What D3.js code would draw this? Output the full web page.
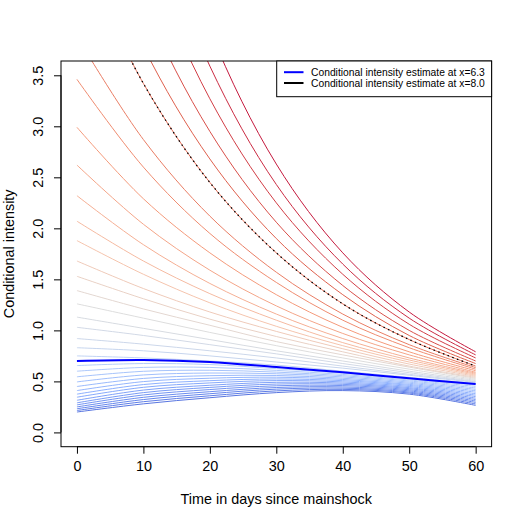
<!DOCTYPE html>
<html><head><meta charset="utf-8">
<script src="https://cdn.jsdelivr.net/npm/d3@7"></script>
<style>
body{margin:0;background:#fff}
svg{display:block}
text{font-family:"Liberation Sans",Arial,Helvetica,sans-serif;fill:#000}
</style>
</head><body><svg id="chart" width="523" height="523"></svg>
<script>
// ---- data ----
const times = [0, 10, 20, 30, 40, 50, 60];
const xTicks = [0, 10, 20, 30, 40, 50, 60];
const yTicks = [0.0, 0.5, 1.0, 1.5, 2.0, 2.5, 3.0, 3.5];
const covariates = [4.8,4.9,5.0,5.1,5.2,5.3,5.4,5.5,5.6,5.7,5.8,5.9,6.0,6.1,6.2,
                    6.3,6.4,6.5,6.6,6.7,6.8,6.9,7.0,7.1,7.2,7.3,7.4,7.5,7.6,7.7,7.8,7.9,8.0,8.1,8.2,8.3,8.4,8.5];
const lowerCurves = [
  [0.200,0.280,0.340,0.390,0.410,0.375,0.265],
  [0.215,0.301,0.359,0.407,0.422,0.386,0.279],
  [0.232,0.322,0.379,0.424,0.434,0.396,0.294],
  [0.250,0.344,0.399,0.440,0.446,0.407,0.308],
  [0.270,0.367,0.420,0.457,0.459,0.418,0.322],
  [0.290,0.390,0.441,0.474,0.471,0.429,0.336],
  [0.315,0.415,0.462,0.491,0.483,0.439,0.351],
  [0.345,0.442,0.485,0.508,0.495,0.450,0.365],
  [0.375,0.469,0.507,0.524,0.507,0.461,0.379],
  [0.410,0.498,0.531,0.541,0.519,0.471,0.394],
  [0.450,0.529,0.556,0.558,0.531,0.482,0.408],
  [0.495,0.563,0.582,0.575,0.544,0.493,0.422],
  [0.545,0.599,0.609,0.591,0.556,0.504,0.436],
  [0.600,0.637,0.637,0.608,0.568,0.514,0.451],
  [0.655,0.675,0.665,0.625,0.580,0.525,0.465]
];
const upperCurves = [
  [0.70,0.71,0.69,0.64,0.59,0.53,0.475],
  [0.75,0.73,0.70,0.66,0.60,0.54,0.48],
  [0.83,0.80,0.75,0.69,0.63,0.56,0.49],
  [0.92,0.865,0.80,0.73,0.65,0.57,0.495],
  [1.03,0.95,0.86,0.77,0.675,0.585,0.50],
  [1.13,1.02,0.91,0.80,0.70,0.60,0.51],
  [1.26,1.12,0.98,0.85,0.73,0.62,0.52],
  [1.39,1.21,1.05,0.89,0.76,0.64,0.53],
  [1.53,1.31,1.11,0.94,0.79,0.65,0.54],
  [1.68,1.41,1.18,0.99,0.82,0.67,0.55],
  [1.88,1.55,1.27,1.04,0.85,0.69,0.56],
  [2.07,1.68,1.36,1.10,0.88,0.71,0.57],
  [2.32,1.84,1.46,1.16,0.92,0.73,0.58],
  [2.62,2.04,1.59,1.24,0.97,0.76,0.59],
  [2.99,2.29,1.76,1.35,1.03,0.79,0.605],
  [3.46,2.60,1.95,1.47,1.10,0.83,0.62],
  [3.88,2.87,2.12,1.57,1.16,0.86,0.635],
  [4.77,3.42,2.45,1.76,1.26,0.91,0.65],
  [5.34,3.78,2.68,1.90,1.35,0.95,0.675],
  [6.05,4.22,2.95,2.06,1.44,1.00,0.70],
  [6.92,4.76,3.27,2.25,1.55,1.06,0.73],
  [7.80,5.29,3.59,2.43,1.65,1.12,0.76],
  [8.78,5.88,3.94,2.63,1.76,1.18,0.79]
];
const highlightBlueX = 6.3;
const highlightBlackX = 8.0;
const legendLabels = ["Conditional intensity estimate at x=6.3", "Conditional intensity estimate at x=8.0"];

// ---- layout ----
const svg = d3.select("#chart");
const L = 61, R = 491.6, T = 61, B = 446.7;
const x = d3.scaleLinear().domain([-2.4, 62.4]).range([L, R]);
const y = d3.scaleLinear().domain([-0.14, 3.64]).range([B, T]);

const coolwarm = ["#3B4CC0","#6282EA","#8DB0FE","#B8D0F9","#DDDDDD","#F5C4AD","#F49A7B","#DE604D","#C41A3E"];
const colInterp = d3.piecewise(d3.interpolateRgb, coolwarm);
const cpos = d3.scaleLinear().domain([4.3, 6.9, 8.5]).range([0, 0.5, 1]);

const allCurves = lowerCurves.concat(upperCurves);
const series = covariates.map((c, i) => ({c, vals: allCurves[i]}));

svg.append("clipPath").attr("id","clip").append("rect")
  .attr("x", L).attr("y", T).attr("width", R - L).attr("height", B - T);

const line = d3.line().x((d, i) => x(times[i])).y(d => y(d)).curve(d3.curveCatmullRom.alpha(0.5));

const g = svg.append("g").attr("clip-path","url(#clip)");
g.selectAll("path.c").data(series).join("path")
  .attr("class","c")
  .attr("d", d => line(d.vals))
  .attr("fill","none")
  .attr("stroke", d => colInterp(cpos(d.c)))
  .attr("stroke-width", 1);

const blue = series.find(s => Math.abs(s.c - highlightBlueX) < 1e-9);
const black = series.find(s => Math.abs(s.c - highlightBlackX) < 1e-9);
g.append("path").attr("d", line(blue.vals)).attr("fill","none").attr("stroke","#0000FF").attr("stroke-width",2);
g.append("path").attr("d", line(black.vals)).attr("fill","none").attr("stroke","#000").attr("stroke-width",1.3)
  .attr("stroke-dasharray","1.5,3.5");

// box
svg.append("rect").attr("x", L).attr("y", T).attr("width", R - L).attr("height", B - T)
  .attr("fill","none").attr("stroke","#000").attr("stroke-width",1);

// x axis
const xa = svg.append("g").attr("transform", `translate(0,${B})`)
  .call(d3.axisBottom(x).tickValues(xTicks).tickSize(7).tickSizeOuter(0).tickFormat(d3.format("d")));
xa.select(".domain").attr("d", `M${x(0)},0H${x(60)}`).attr("stroke","#000");
xa.selectAll(".tick line").attr("stroke","#000");
xa.selectAll(".tick text").attr("font-size", 14.4).attr("y", 14.5).attr("dy","0.71em")
  .style("font-family","'Liberation Sans',Arial,sans-serif").attr("fill","#000");

// y axis
const ya = svg.append("g").attr("transform", `translate(${L},0)`)
  .call(d3.axisLeft(y).tickValues(yTicks).tickSize(7).tickSizeOuter(0).tickFormat(d3.format(".1f")));
ya.select(".domain").attr("d", `M0,${y(0)}V${y(3.5)}`).attr("stroke","#000");
ya.selectAll(".tick line").attr("stroke","#000");
ya.selectAll(".tick text").attr("font-size", 14.4)
  .attr("x", null).attr("dy", null)
  .attr("transform", "translate(-18.3,0) rotate(-90)")
  .attr("text-anchor","middle")
  .style("font-family","'Liberation Sans',Arial,sans-serif").attr("fill","#000");

// titles
svg.append("text").attr("x", (L + R) / 2).attr("y", 503.5).attr("text-anchor","middle")
  .attr("font-size", 14.4).text("Time in days since mainshock");
svg.append("text").attr("transform", `translate(13.5,${(T + B) / 2}) rotate(-90)`).attr("text-anchor","middle")
  .attr("font-size", 14.4).text("Conditional intensity");

// legend
const lg = svg.append("g");
const lx0 = 276.7, ly0 = 61, lw = R - 276.7, lh = 35.7;
lg.append("rect").attr("x", lx0).attr("y", ly0).attr("width", lw).attr("height", lh)
  .attr("fill","#fff").attr("stroke","#000").attr("stroke-width",1);
const legColors = ["#0000FF", "#000000"];
legendLabels.forEach((t, i) => {
  const yy = 72.2 + i * 10.8;
  lg.append("line").attr("x1", 284).attr("x2", 303.5).attr("y1", yy).attr("y2", yy)
    .attr("stroke", legColors[i]).attr("stroke-width", 2);
  lg.append("text").attr("x", 311).attr("y", yy).attr("dy","0.35em").attr("font-size", 10.3).text(t);
});
</script></body></html>
